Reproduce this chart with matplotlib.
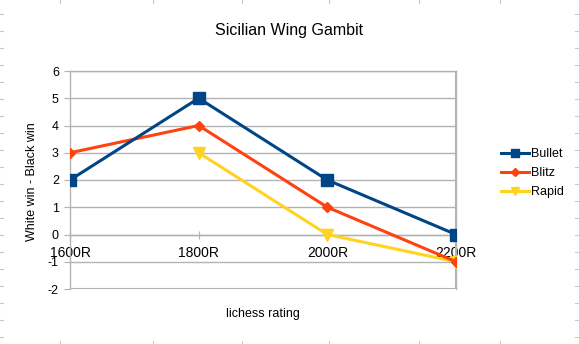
import numpy as np
import matplotlib.pyplot as plt
from matplotlib.lines import Line2D

plt.rcParams['font.family'] = ['Liberation Sans', 'DejaVu Sans']
plt.rcParams['axes.unicode_minus'] = False

ratings = ['1600R', '1800R', '2000R', '2200R']
bullet = [2, 5, 2, 0]
blitz = [3, 4, 1, -1]
rapid = [np.nan, 3, 0, -1]

W, H, DPI = 579, 344, 100
fig = plt.figure(figsize=(W / DPI, H / DPI), dpi=DPI)
ax = fig.add_axes([70 / W, 1 - 289 / H, (456 - 70) / W, (289 - 71) / H])

grid_col = '#b3b3b3'
x = np.arange(len(ratings))

ax.plot(x, bullet, color='#004586', lw=2.2, marker='s', ms=8, label='Bullet', zorder=5)
ax.plot(x, blitz, color='#ff420e', lw=2.2, marker='D', ms=5.5, label='Blitz', zorder=4)
ax.plot(x, rapid, color='#ffd320', lw=2.2, marker='v', ms=8, label='Rapid', zorder=3)

ax.set_xlim(0, 3)
ax.set_ylim(-2, 6)
ax.set_yticks(range(-2, 7))
ax.set_xticks(x)
ax.set_xticklabels(ratings, fontsize=9)
ax.tick_params(axis='y', labelsize=9, length=4, color=grid_col, pad=4)
ax.tick_params(axis='x', direction='inout', length=6, color=grid_col, pad=5)

# category axis crosses the value axis at zero
ax.spines['bottom'].set_position(('data', 0))
for s in ax.spines.values():
    s.set_color(grid_col)
    s.set_linewidth(1)
ax.axhline(-2, color=grid_col, lw=1.5, zorder=1)
ax.axvline(3, color=grid_col, lw=1.5, zorder=1)
ax.grid(axis='y', color=grid_col, lw=1)
ax.set_axisbelow(True)

fig.text(32 / W, 1 - 182 / H, 'White win - Black win', fontsize=9, rotation=90,
         ha='center', va='center')
fig.text(263 / W, 1 - 314 / H, 'lichess rating', fontsize=9, ha='center', va='center')
fig.text(0.5, 1 - 30 / H, 'Sicilian Wing Gambit', fontsize=11.5, ha='center', va='center')

fig.legend(loc='center left', bbox_to_anchor=(490 / W, 1 - 173 / H), frameon=False,
           fontsize=9, handlelength=2.2, handletextpad=0.2, labelspacing=0.55,
           markerscale=0.75)

# faint sheet cell marks around the border
mark = '#c8c8c8'
for yy in range(14, H, 17):
    fig.add_artist(Line2D([0, 3 / W], [1 - yy / H] * 2, color=mark, lw=0.8))
    fig.add_artist(Line2D([1 - 4 / W, 1], [1 - yy / H] * 2, color=mark, lw=0.8))
for xx in [60, 153, 242, 329, 419, 500]:
    fig.add_artist(Line2D([xx / W] * 2, [1 - 3 / H, 1], color=mark, lw=0.8))
    fig.add_artist(Line2D([xx / W] * 2, [0, 3 / H], color=mark, lw=0.8))

fig.savefig('out.png', dpi=DPI)
